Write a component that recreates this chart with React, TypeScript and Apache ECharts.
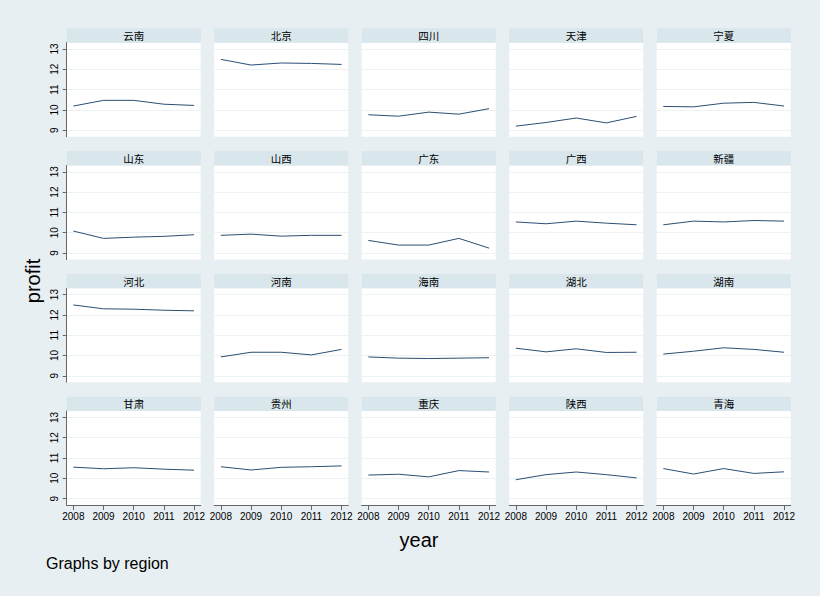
import React, { useEffect, useRef } from "react";
import * as echarts from "echarts";

const years = [2008, 2009, 2010, 2011, 2012];
const yTicks = [9, 10, 11, 12, 13];
const regions = [
  "云南", "北京", "四川", "天津", "宁夏",
  "山东", "山西", "广东", "广西", "新疆",
  "河北", "河南", "海南", "湖北", "湖南",
  "甘肃", "贵州", "重庆", "陕西", "青海",
];

const yunnan = [10.19, 10.47, 10.47, 10.28, 10.22];
const beijing = [12.49, 12.21, 12.31, 12.29, 12.24];
const sichuan = [9.76, 9.69, 9.89, 9.79, 10.06];
const tianjin = [9.2, 9.38, 9.6, 9.36, 9.68];
const ningxia = [10.17, 10.15, 10.33, 10.37, 10.19];
const shandong = [10.08, 9.72, 9.78, 9.82, 9.9];
const shanxi = [9.87, 9.93, 9.83, 9.87, 9.87];
const guangdong = [9.62, 9.39, 9.39, 9.72, 9.24];
const guangxi = [10.53, 10.44, 10.57, 10.47, 10.39];
const xinjiang = [10.39, 10.57, 10.53, 10.6, 10.57];
const hebei = [12.49, 12.3, 12.28, 12.23, 12.2];
const henan = [9.93, 10.16, 10.16, 10.03, 10.3];
const hainan = [9.93, 9.87, 9.85, 9.87, 9.89];
const hubei = [10.36, 10.18, 10.33, 10.15, 10.16];
const hunan = [10.07, 10.21, 10.38, 10.3, 10.16];
const gansu = [10.55, 10.47, 10.52, 10.45, 10.4];
const guizhou = [10.57, 10.41, 10.54, 10.57, 10.61];
const chongqing = [10.16, 10.2, 10.07, 10.38, 10.31];
const shaanxi = [9.93, 10.18, 10.31, 10.18, 10.02];
const qinghai = [10.48, 10.21, 10.48, 10.24, 10.32];

const regionValues = [
  yunnan, beijing, sichuan, tianjin, ningxia,
  shandong, shanxi, guangdong, guangxi, xinjiang,
  hebei, henan, hainan, hubei, hunan,
  gansu, guizhou, chongqing, shaanxi, qinghai,
];

const COLS = 5;
const ROWS = 4;
const LEFT0 = 66.7;
const COL_STEP = 147.5;
const PW = 134;
const TOP0 = 42.7;
const ROW_STEP = 122.8;
const PH = 94;
const HEAD_H = 14.4;

const BG = "#e8eff2";
const HEAD = "#d9e6ec";
const LINE = "#2b4f73";
const AXIS = "#666666";
const FONT = "'Liberation Sans', Arial, sans-serif";
const CJK = "'Noto Sans CJK SC', sans-serif";

export default function App() {
  const ref = useRef<HTMLDivElement>(null);

  useEffect(() => {
    if (!ref.current) return;
    const chart = echarts.init(ref.current, undefined, { renderer: "svg" });

    const grids: any[] = [];
    const xAxes: any[] = [];
    const yAxes: any[] = [];
    const series: any[] = [];
    const graphics: any[] = [];

    regions.forEach((name, i) => {
      const r = Math.floor(i / COLS);
      const c = i % COLS;
      const left = LEFT0 + c * COL_STEP;
      const top = TOP0 + r * ROW_STEP;
      grids.push({
        left,
        top,
        width: PW,
        height: PH,
        show: true,
        backgroundColor: "#ffffff",
        borderWidth: 0,
        containLabel: false,
      });
      const showX = r === ROWS - 1;
      const showY = c === 0;
      xAxes.push({
        gridIndex: i,
        type: "value",
        min: 2007.78,
        max: 2012.22,
        axisLine: { show: showX, onZero: false, lineStyle: { color: AXIS, width: 1 } },
        axisTick: {
          show: showX,
          customValues: years,
          length: 5,
          lineStyle: { color: AXIS, width: 1 },
        },
        axisLabel: {
          show: showX,
          customValues: years,
          formatter: (v: number) => String(v),
          fontSize: 10,
          fontFamily: FONT,
          color: "#000",
          margin: 6,
        },
        splitLine: { show: false },
      });
      yAxes.push({
        gridIndex: i,
        type: "value",
        min: 8.68,
        max: 13.31,
        axisLine: { show: showY, onZero: false, lineStyle: { color: AXIS, width: 1 } },
        axisTick: {
          show: showY,
          customValues: yTicks,
          length: 4,
          lineStyle: { color: AXIS, width: 1 },
        },
        axisLabel: {
          show: showY,
          customValues: yTicks,
          rotate: 90,
          fontSize: 10,
          fontFamily: FONT,
          color: "#000",
          margin: 7,
        },
        splitLine: { show: true, lineStyle: { color: "#edf3f5", width: 1 } },
      });
      series.push({
        type: "line",
        xAxisIndex: i,
        yAxisIndex: i,
        symbol: "none",
        lineStyle: { color: LINE, width: 1 },
        data: years.map((y, k) => [y, regionValues[i][k]]),
      });
      graphics.push({
        type: "rect",
        shape: { x: left, y: top - HEAD_H, width: PW, height: HEAD_H },
        style: { fill: HEAD },
        silent: true,
      });
      graphics.push({
        type: "text",
        x: left + PW / 2,
        y: top - HEAD_H / 2,
        style: {
          text: name,
          fill: "#000",
          fontSize: 10.5,
          fontFamily: CJK,
          align: "center",
          verticalAlign: "middle",
          textAlign: "center",
          textVerticalAlign: "middle",
        },
        silent: true,
      });
    });

    graphics.push({
      type: "text",
      x: 33,
      y: 281,
      rotation: Math.PI / 2,
      style: {
        text: "profit",
        fill: "#000",
        fontSize: 20,
        fontFamily: FONT,
        align: "center",
        verticalAlign: "middle",
        textAlign: "center",
        textVerticalAlign: "middle",
      },
      silent: true,
    });
    graphics.push({
      type: "text",
      x: 419,
      y: 540,
      style: {
        text: "year",
        fill: "#000",
        fontSize: 20,
        fontFamily: FONT,
        align: "center",
        verticalAlign: "middle",
        textAlign: "center",
        textVerticalAlign: "middle",
      },
      silent: true,
    });
    graphics.push({
      type: "text",
      x: 46,
      y: 563,
      style: {
        text: "Graphs by region",
        fill: "#000",
        fontSize: 16,
        fontFamily: FONT,
        align: "left",
        verticalAlign: "middle",
        textAlign: "left",
        textVerticalAlign: "middle",
      },
      silent: true,
    });

    chart.setOption({
      animation: false,
      backgroundColor: BG,
      grid: grids,
      xAxis: xAxes,
      yAxis: yAxes,
      series,
      graphic: graphics,
    });

    return () => {
      chart.dispose();
    };
  }, []);

  return (
    <div
      ref={ref}
      style={{ position: "fixed", left: 0, top: 0, width: 820, height: 596 }}
    />
  );
}
